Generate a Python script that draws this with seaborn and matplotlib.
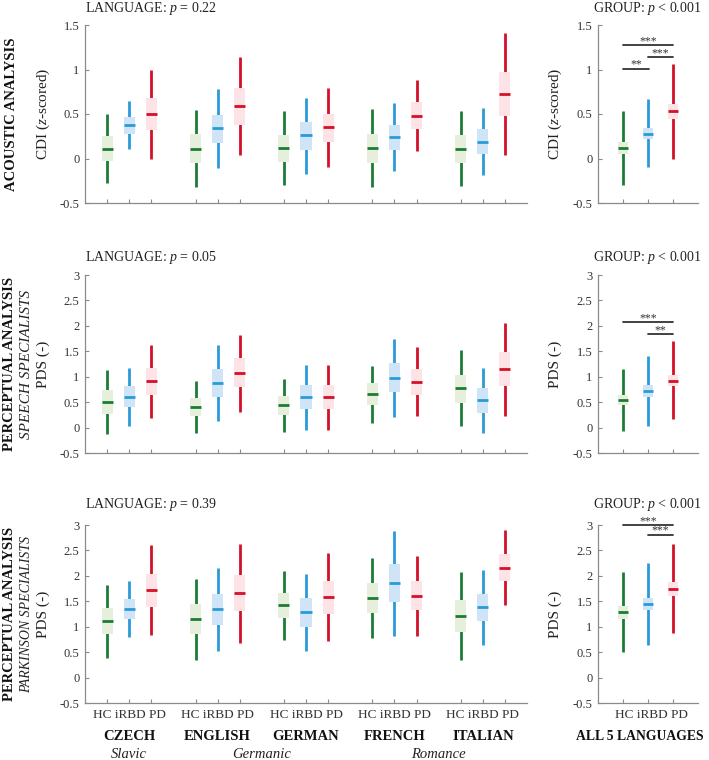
import numpy as np
import matplotlib
matplotlib.use("Agg")
import matplotlib.pyplot as plt
import matplotlib.transforms as mtransforms
import seaborn as sns

# Summary statistics (whisker low, Q1, median, Q3, whisker high)
languages = ["CZECH", "ENGLISH", "GERMAN", "FRENCH", "ITALIAN"]
families = [("Slavic", 0, 0), ("Germanic", 1, 2), ("Romance", 3, 4)]
groups = ["HC", "iRBD", "PD"]

# acoustic analysis (CDI, z-scored), order: CZ HC/iRBD/PD, EN ..., DE, FR, IT
cdi_lo = [-0.27, 0.11, 0.00, -0.32, -0.11, 0.04, -0.30, -0.17, -0.09, -0.32, -0.14, 0.08, -0.31, -0.19, 0.04]
cdi_q1 = [-0.03, 0.28, 0.32, -0.05, 0.17, 0.38, -0.04, 0.10, 0.18, -0.045, 0.10, 0.33, -0.05, 0.05, 0.48]
cdi_med = [0.11, 0.375, 0.50, 0.11, 0.34, 0.59, 0.115, 0.26, 0.35, 0.12, 0.24, 0.48, 0.11, 0.19, 0.725]
cdi_q3 = [0.25, 0.47, 0.68, 0.27, 0.49, 0.79, 0.26, 0.41, 0.50, 0.28, 0.38, 0.63, 0.26, 0.33, 0.97]
cdi_hi = [0.50, 0.65, 1.00, 0.54, 0.78, 1.145, 0.53, 0.68, 0.79, 0.56, 0.62, 0.885, 0.53, 0.57, 1.405]
cdi_all_lo = [-0.30, -0.10, 0.00]
cdi_all_q1 = [0.045, 0.22, 0.44]
cdi_all_med = [0.115, 0.28, 0.53]
cdi_all_q3 = [0.18, 0.34, 0.61]
cdi_all_hi = [0.53, 0.665, 1.06]
cdi_sig = [(1, 3, 1.27, "***"), (2, 3, 1.14, "***"), (1, 2.05, 1.01, "**")]

# perceptual analysis, speech specialists (PDS)
sp_lo = [-0.13, 0.03, 0.18, -0.11, 0.12, 0.315, -0.085, -0.04, -0.04, 0.09, 0.20, 0.22, 0.03, -0.105, 0.23]
sp_q1 = [0.27, 0.41, 0.64, 0.22, 0.60, 0.80, 0.24, 0.37, 0.37, 0.44, 0.70, 0.65, 0.49, 0.295, 0.81]
sp_med = [0.50, 0.60, 0.91, 0.40, 0.87, 1.075, 0.44, 0.60, 0.60, 0.66, 0.98, 0.905, 0.77, 0.54, 1.15]
sp_q3 = [0.73, 0.81, 1.175, 0.58, 1.15, 1.36, 0.62, 0.83, 0.83, 0.87, 1.26, 1.16, 1.04, 0.775, 1.48]
sp_hi = [1.14, 1.175, 1.63, 0.91, 1.615, 1.825, 0.95, 1.235, 1.235, 1.22, 1.75, 1.59, 1.52, 1.175, 2.06]
sp_all_lo = [-0.06, 0.03, 0.16]
sp_all_q1 = [0.44, 0.61, 0.81]
sp_all_med = [0.55, 0.72, 0.925]
sp_all_q3 = [0.65, 0.83, 1.04]
sp_all_hi = [1.16, 1.405, 1.695]
sp_sig = [(1, 3, 2.075, "***"), (2, 3, 1.845, "**")]

# perceptual analysis, parkinson specialists (PDS)
pk_lo = [0.39, 0.79, 0.83, 0.35, 0.53, 0.68, 0.73, 0.53, 0.71, 0.78, 0.82, 0.81, 0.35, 0.65, 1.42]
pk_q1 = [0.85, 1.15, 1.39, 0.85, 1.04, 1.31, 1.175, 1.00, 1.25, 1.275, 1.48, 1.33, 0.89, 1.11, 1.90]
pk_med = [1.11, 1.35, 1.73, 1.15, 1.35, 1.66, 1.425, 1.28, 1.58, 1.57, 1.85, 1.61, 1.215, 1.38, 2.16]
pk_q3 = [1.37, 1.55, 2.04, 1.44, 1.64, 2.01, 1.67, 1.56, 1.90, 1.865, 2.23, 1.90, 1.53, 1.65, 2.43]
pk_hi = [1.825, 1.905, 2.615, 1.93, 2.16, 2.63, 2.10, 2.03, 2.455, 2.36, 2.89, 2.40, 2.075, 2.11, 2.895]
pk_all_lo = [0.50, 0.64, 0.87]
pk_all_q1 = [1.16, 1.32, 1.61]
pk_all_med = [1.29, 1.445, 1.745]
pk_all_q3 = [1.405, 1.56, 1.885]
pk_all_hi = [2.075, 2.26, 2.62]
pk_sig = [(1, 3, 3.0, "***"), (2, 3, 2.81, "***")]

lang_p = ["= 0.22", "= 0.05", "= 0.39"]
group_p = ["< 0.001", "< 0.001", "< 0.001"]

line_colors = ["#1c7c35", "#2a9ad8", "#d31128"]
fill_colors = ["#e6efdb", "#cfe4f6", "#fde3e6"]

sns.set_theme(style="ticks")
plt.rcParams["font.family"] = ["Liberation Serif", "DejaVu Serif"]
plt.rcParams["mathtext.fontset"] = "custom"
plt.rcParams["mathtext.rm"] = "Liberation Serif"
plt.rcParams["mathtext.it"] = "Liberation Serif:italic"
plt.rcParams["axes.edgecolor"] = "#8a8a8a"
plt.rcParams["xtick.color"] = "#8a8a8a"
plt.rcParams["ytick.color"] = "#8a8a8a"
plt.rcParams["xtick.labelcolor"] = "#333333"
plt.rcParams["ytick.labelcolor"] = "#333333"


def draw_box(ax, x, lo, q1, med, q3, hi, k, w):
    ax.vlines(x, lo, hi, color=line_colors[k], lw=2.0, zorder=2)
    ax.bar(x, q3 - q1, bottom=q1, width=w, color=fill_colors[k], lw=0, zorder=3)
    ax.hlines(med, x - w / 2, x + w / 2, color=line_colors[k], lw=2.0, zorder=4)


def style_axes(ax, yticks, ylim):
    sns.despine(ax=ax)
    ax.set_ylim(*ylim)
    ax.set_yticks(yticks)
    ax.set_yticklabels([f"{t:g}" for t in yticks])
    ax.tick_params(direction="in", length=3, width=0.8, labelsize=9, pad=4)
    for s in ["left", "bottom"]:
        ax.spines[s].set_linewidth(0.9)


fig = plt.figure(figsize=(7.09, 7.6), dpi=100)
W, H = 709.0, 760.0
rows = [
    dict(top=25, stats=(cdi_lo, cdi_q1, cdi_med, cdi_q3, cdi_hi),
         all=(cdi_all_lo, cdi_all_q1, cdi_all_med, cdi_all_q3, cdi_all_hi), sig=cdi_sig,
         yticks=[-0.5, 0, 0.5, 1, 1.5], ylim=(-0.5, 1.5), ylabel="CDI ($z$-scored)",
         title="ACOUSTIC ANALYSIS", sub=None, subsize=0, head_y=1.095),
    dict(top=275, stats=(sp_lo, sp_q1, sp_med, sp_q3, sp_hi),
         all=(sp_all_lo, sp_all_q1, sp_all_med, sp_all_q3, sp_all_hi), sig=sp_sig,
         yticks=[-0.5, 0, 0.5, 1, 1.5, 2, 2.5, 3], ylim=(-0.5, 3), ylabel="PDS (-)",
         title="PERCEPTUAL ANALYSIS", sub="SPEECH SPECIALISTS", subsize=11, head_y=1.1),
    dict(top=525, stats=(pk_lo, pk_q1, pk_med, pk_q3, pk_hi),
         all=(pk_all_lo, pk_all_q1, pk_all_med, pk_all_q3, pk_all_hi), sig=pk_sig,
         yticks=[-0.5, 0, 0.5, 1, 1.5, 2, 2.5, 3], ylim=(-0.5, 3), ylabel="PDS (-)",
         title="PERCEPTUAL ANALYSIS", sub="PARKINSON SPECIALISTS", subsize=10, head_y=1.115),
]

positions = [4 * li + g + 1 for li in range(len(languages)) for g in range(len(groups))]
group_text = " ".join(groups)

for r, row in enumerate(rows):
    bottom = 1 - (row["top"] + 178) / H
    height = 178 / H
    axl = fig.add_axes([85 / W, bottom, 442 / W, height])
    axr = fig.add_axes([598 / W, bottom, 100 / W, height])

    lo, q1, med, q3, hi = row["stats"]
    for i, x in enumerate(positions):
        draw_box(axl, x, lo[i], q1[i], med[i], q3[i], hi[i], i % 3, 0.5)
    alo, aq1, amed, aq3, ahi = row["all"]
    for g in range(3):
        draw_box(axr, g + 1, alo[g], aq1[g], amed[g], aq3[g], ahi[g], g, 0.42)

    style_axes(axl, row["yticks"], row["ylim"])
    style_axes(axr, row["yticks"], row["ylim"])
    axl.set_xlim(0, 20)
    axr.set_xlim(0, 4)
    axl.set_xticks(positions)
    axr.set_xticks([1, 2, 3])
    axl.set_xticklabels([])
    axr.set_xticklabels([])

    # significance bars
    for x0, x1, y, stars in row["sig"]:
        axr.plot([x0, x1], [y, y], color="#333333", lw=1.3, clip_on=False, zorder=5)
        axr.annotate(stars, xy=((x0 + x1) / 2, y), xytext=(0, 0.6),
                     textcoords="offset points", ha="center", va="baseline",
                     fontsize=8.5, color="#333333", annotation_clip=False)

    # panel headers
    axl.text(0, row["head_y"], "LANGUAGE: $p$ " + lang_p[r], transform=axl.transAxes,
             ha="left", va="center", fontsize=10, color="#222222")
    axr.text(1.04, row["head_y"], "GROUP: $p$ " + group_p[r], transform=axr.transAxes,
             ha="right", va="center", fontsize=10, color="#222222")

    # y labels
    axl.set_ylabel(row["ylabel"], fontsize=11, va="center", color="#222222")
    axl.yaxis.set_label_coords(-0.095, 0.5)
    axr.set_ylabel(row["ylabel"], fontsize=11, va="center", color="#222222")
    axr.yaxis.set_label_coords(-0.43, 0.5)

    # row labels
    yc = 1 - (row["top"] + 89) / H
    if row["sub"] is None:
        fig.text(12 / W, yc, row["title"], rotation=90, ha="center", va="center",
                 fontsize=10.5, fontweight="bold", color="#111111")
    else:
        fig.text(10 / W, yc, row["title"], rotation=90, ha="center", va="center",
                 fontsize=10.5, fontweight="bold", color="#111111")
        fig.text(27 / W, yc, row["sub"], rotation=90, ha="center", va="center",
                 fontsize=row["subsize"], fontstyle="italic", color="#222222")

    if r == 2:
        trans = mtransforms.blended_transform_factory(axl.transData, axl.transAxes)
        for li, name in enumerate(languages):
            axl.text(4 * li + 2, -0.068, group_text, transform=trans, ha="center",
                     va="center", fontsize=9.5, color="#333333")
            axl.text(4 * li + 2, -0.19, name, transform=trans, ha="center", va="center",
                     fontsize=10.5, fontweight="bold", color="#111111")
        for fam, a, b in families:
            axl.text(2 * (a + b) + 2, -0.29, fam, transform=trans, ha="center",
                     va="center", fontsize=10.5, fontstyle="italic", color="#222222")
        axr.text(0.53, -0.068, group_text, transform=axr.transAxes, ha="center",
                 va="center", fontsize=9.5, color="#333333")
        axr.text(0.42, -0.19, "ALL 5 LANGUAGES", transform=axr.transAxes, ha="center",
                 va="center", fontsize=9.8, fontweight="bold", color="#111111")

fig.savefig("out.png", dpi=100)
